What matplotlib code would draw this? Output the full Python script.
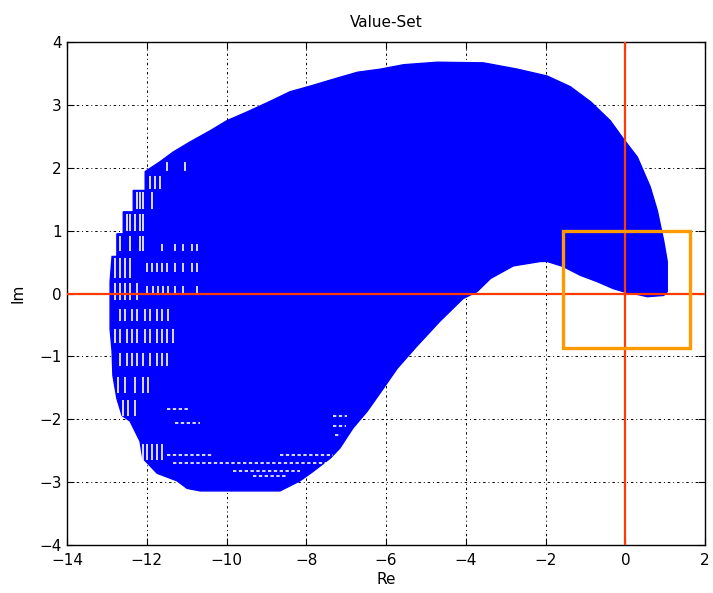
import numpy as np
import matplotlib.pyplot as plt
from matplotlib.patches import Polygon, Rectangle

plt.rcParams['font.family'] = ['DejaVu Sans']

# outer boundary of the value set (Re, Im)
boundary_re = [-12.92, -12.87, -12.75, -12.75, -12.59, -12.59, -12.34, -12.34, -12.04, -12.04,
               -11.66, -11.34, -10.92, -10.41, -9.99, -9.48, -8.90, -8.41, -7.90, -7.32,
               -6.72, -6.14, -5.56, -4.72, -3.56, -2.71, -1.96, -1.38, -0.87, -0.38,
               -0.05, 0.30, 0.62, 0.80, 0.96, 1.05, 1.05, 0.96, 0.55, 0.20,
               -0.05, -0.31, -0.71, -1.13, -1.56, -1.96, -2.13, -2.81, -3.38, -3.72,
               -4.07, -4.65, -5.22, -5.72, -6.07, -6.47, -6.83, -7.16, -7.40, -7.83,
               -8.16, -8.66, -10.66, -10.99, -11.24, -11.74, -12.10, -12.17, -12.42, -12.62,
               -12.75, -12.85, -12.87, -12.92]
boundary_im = [0.19, 0.59, 0.59, 0.95, 0.95, 1.30, 1.30, 1.64, 1.64, 1.94,
               2.10, 2.25, 2.41, 2.59, 2.75, 2.89, 3.06, 3.21, 3.30, 3.41,
               3.52, 3.57, 3.64, 3.68, 3.67, 3.57, 3.46, 3.29, 3.05, 2.75,
               2.46, 2.17, 1.70, 1.32, 0.84, 0.51, 0.03, -0.03, -0.05, 0.00,
               0.03, 0.08, 0.19, 0.29, 0.43, 0.51, 0.51, 0.44, 0.24, 0.03,
               -0.08, -0.44, -0.83, -1.19, -1.51, -1.87, -2.14, -2.46, -2.62, -2.83,
               -2.98, -3.14, -3.14, -3.10, -2.98, -2.86, -2.62, -2.35, -2.03, -1.94,
               -1.67, -1.30, -0.92, -0.56]

# white gaps between the template rectangles: (Im low, Im high, [Re ...])
gap_rows = [
    (1.95, 2.10, [-11.50, -11.04]),
    (1.67, 1.87, [-11.92, -11.80, -11.66]),
    (1.35, 1.62, [-12.24, -12.17, -12.10, -11.87]),
    (1.00, 1.27, [-12.50, -12.42, -12.29, -12.17, -12.10]),
    (0.67, 0.92, [-12.67, -12.42, -12.17, -12.10]),
    (0.68, 0.79, [-11.62, -11.29, -11.09, -10.87, -10.74]),
    (0.24, 0.56, [-12.80, -12.67, -12.54, -12.42]),
    (0.35, 0.48, [-11.99, -11.87, -11.74, -11.62, -11.50, -11.29, -11.09, -10.87, -10.74]),
    (-0.10, 0.16, [-12.80, -12.67, -12.54, -12.42, -12.24]),
    (-0.03, 0.12, [-11.99, -11.85, -11.71, -11.59, -11.47, -11.29, -11.09, -10.74]),
    (-0.43, -0.24, [-12.67, -12.54, -12.36, -12.24, -12.04, -11.92, -11.74, -11.62, -11.47]),
    (-0.79, -0.56, [-12.80, -12.67, -12.50, -12.36, -12.24, -12.04, -11.92, -11.74, -11.62, -11.50, -11.34]),
    (-1.16, -0.95, [-12.67, -12.50, -12.36, -12.24, -12.10, -11.92, -11.74, -11.62, -11.50]),
    (-1.59, -1.32, [-12.72, -12.54, -12.29, -12.10, -11.97]),
    (-1.95, -1.70, [-12.59, -12.47, -12.29]),
    (-2.65, -2.40, [-12.10, -11.99, -11.87, -11.74, -11.62]),
]
# dotted white gaps near the bottom: (Im, Re start, Re end)
gap_lines = [
    (-1.83, -11.50, -10.92),
    (-2.06, -11.29, -10.66),
    (-2.57, -11.50, -10.34),
    (-2.57, -8.66, -7.32),
    (-2.70, -11.34, -7.48),
    (-2.83, -9.83, -8.16),
    (-2.90, -9.34, -8.48),
    (-1.95, -7.32, -6.97),
    (-2.10, -7.32, -7.01),
    (-2.25, -7.27, -7.12),
]

zoom_box = (-1.56, -0.87, 3.19, 1.86)  # Re, Im, width, height

fig = plt.figure(figsize=(7.13, 5.93), dpi=100)
ax = fig.add_axes([0.094, 0.081, 0.895, 0.848])

ax.add_patch(Polygon(np.column_stack([boundary_re, boundary_im]), closed=True,
                     facecolor='blue', edgecolor='blue', lw=1.0, zorder=2))
for lo, hi, xs in gap_rows:
    for xv in xs:
        ax.plot([xv, xv], [lo, hi], color='white', lw=1.2, zorder=3, solid_capstyle='butt')
for yv, x0, x1 in gap_lines:
    ax.plot([x0, x1], [yv, yv], color='white', lw=1.2, zorder=3, dashes=(2, 1.5))

ax.axhline(0, color='#ff3c00', lw=1.6, zorder=4)
ax.axvline(0, color='#ff3c00', lw=1.6, zorder=4)
ax.add_patch(Rectangle(zoom_box[:2], zoom_box[2], zoom_box[3], fill=False,
                       edgecolor='#ff9900', lw=2.4, zorder=5))

ax.set_xlim(-14, 2)
ax.set_ylim(-4, 4)
ax.set_xticks(np.arange(-14, 3, 2))
ax.set_yticks(np.arange(-4, 5, 1))
ax.grid(True, color='black', lw=0.7, dashes=(2.5, 3, 1, 3))
ax.set_axisbelow(True)
ax.tick_params(direction='in', top=True, right=True, labelsize=11, length=5, width=0.8)
ax.tick_params(axis='x', pad=6)
ax.tick_params(axis='y', pad=4)
for sp in ax.spines.values():
    sp.set_linewidth(1.0)

ax.set_xlabel('Re', fontsize=11, labelpad=3)
ax.set_ylabel('Im', fontsize=11, labelpad=10)
ax.set_title('Value-Set', fontsize=11, pad=11)

fig.savefig('out.png', dpi=100)
